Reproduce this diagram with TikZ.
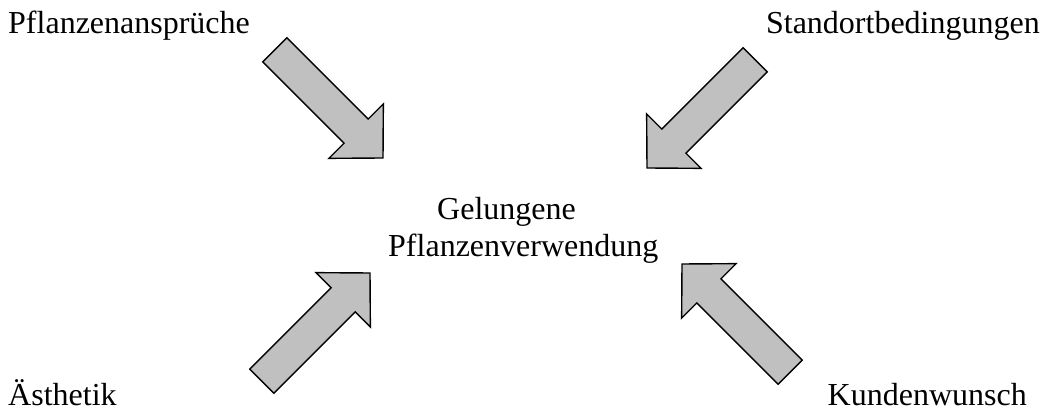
\documentclass[tikz,border=0pt]{standalone}
\usepackage{fontspec}
\setmainfont{Liberation Serif}
\begin{document}
\begin{tikzpicture}[x=1pt,y=1pt,
  blockarrow/.style={draw=black, fill=arrowgray, line width=1.4pt, line join=miter},
  lbl/.style={inner sep=0pt, font=\fontsize{32}{38}\selectfont}]
\definecolor{arrowgray}{RGB}{192,192,192}
\useasboundingbox (0,0) rectangle (1044,412);
% labels (image y -> 412 - y)
\node[lbl, anchor=base west] (pa) at (8,378) {Pflanzenansprüche};
\node[lbl, anchor=base east] (sb) at (1040,378) {Standortbedingungen};
\node[lbl, anchor=base west] (ge) at (437,192) {Gelungene};
\node[lbl, anchor=base west] (pv) at (388,155) {Pflanzenverwendung};
\node[lbl, anchor=base west] (ae) at (8,6) {Ästhetik};
\node[lbl, anchor=base east] (kw) at (1027,6) {Kundenwunsch};
% block arrows: tip at origin, pointing along +x
\foreach \tx/\ty/\ang in {383/254/-45, 647/244/-135, 370/139/45, 682/148/135}{
  \draw[blockarrow, shift={(\tx,\ty)}, rotate=\ang]
    (-153,17) -- (-38,17) -- (-38,38.5) -- (0,0) -- (-38,-38.5) -- (-38,-17) -- (-153,-17) -- cycle;
}
\end{tikzpicture}
\end{document}
